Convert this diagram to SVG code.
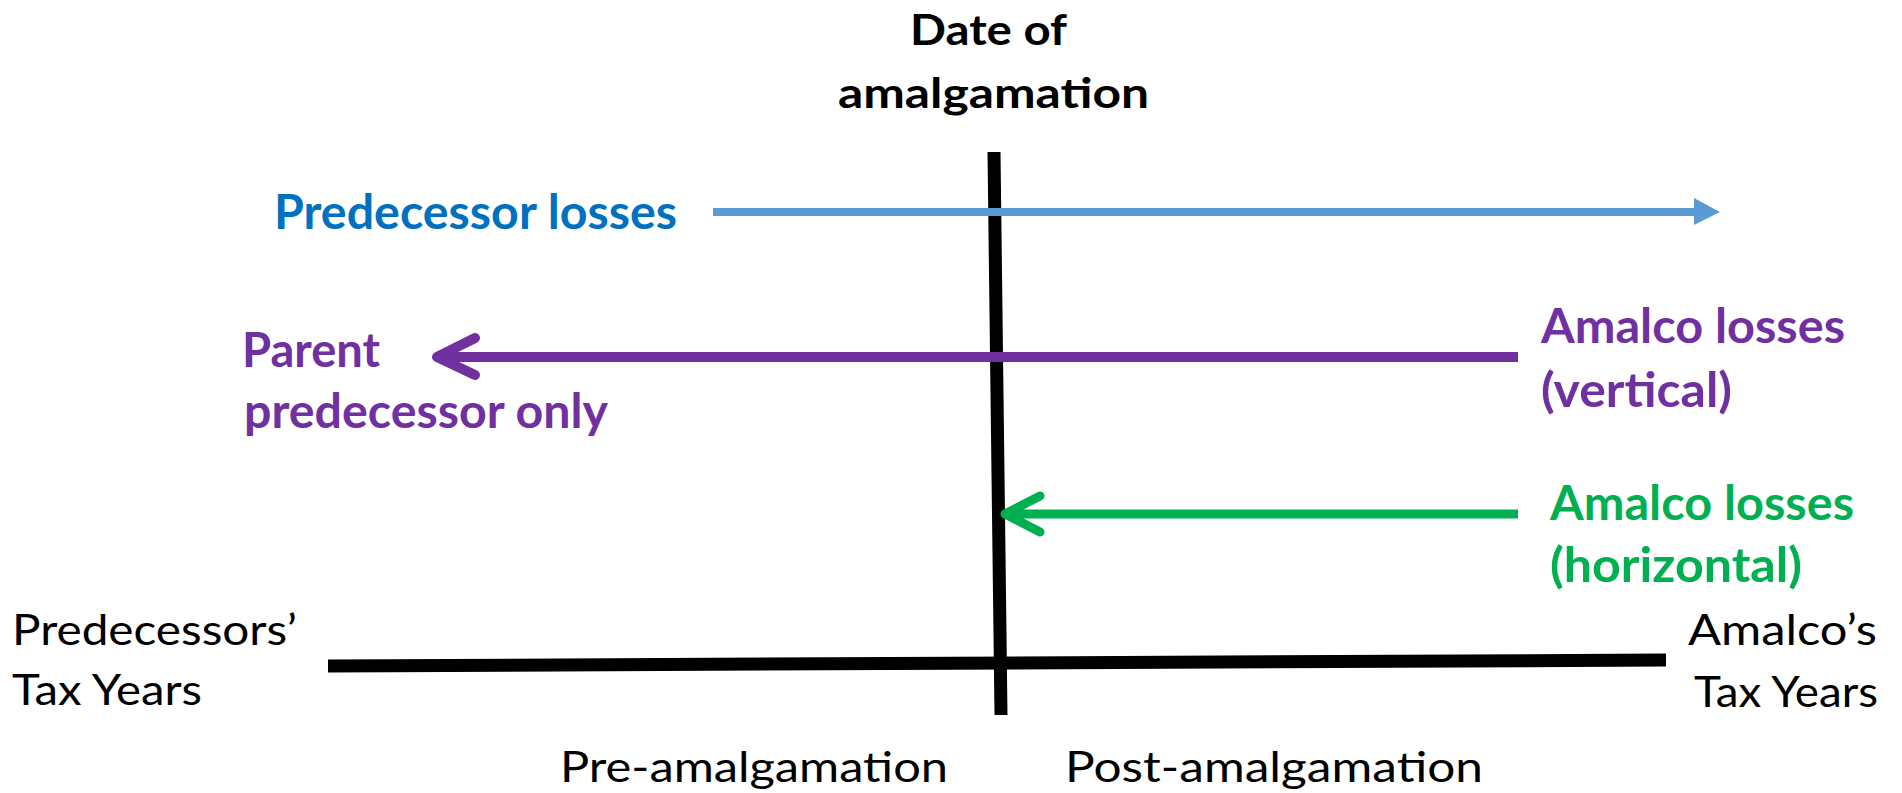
<svg xmlns="http://www.w3.org/2000/svg" width="1902" height="793" viewBox="0 0 1902 793">
  <style>
    text { font-family: Lato, "Open Sans", "Liberation Sans", sans-serif; }
    .title { font-weight: bold; font-size: 42px; fill: #000; }
    .lbl { font-weight: bold; font-size: 47px; }
    .axis { font-size: 42px; fill: #000; }
    .blue { fill: #0070C0; }
    .purple { fill: #7030A0; }
    .green { fill: #00B050; }
    .bar { stroke: #000; stroke-width: 13; fill: none; }
    .head { fill: none; stroke-linecap: round; stroke-linejoin: round; }
  </style>

  <rect width="1902" height="793" fill="#fff"/>

  <!-- timeline axes -->
  <g id="axes">
    <line class="bar" x1="328" y1="666" x2="1666" y2="660"/>
    <line class="bar" x1="994" y1="152" x2="1001" y2="715"/>
  </g>

  <!-- loss carry arrows -->
  <g id="connectors">
    <g id="arrow-predecessor">
      <line x1="713" y1="212" x2="1696" y2="212" stroke="#5B9BD5" stroke-width="8"/>
      <polygon points="1694,198 1720,212 1694,225" fill="#5B9BD5"/>
    </g>
    <g id="arrow-vertical">
      <line x1="1518" y1="357" x2="440" y2="357" stroke="#7030A0" stroke-width="10"/>
      <polyline class="head" points="475,338 437,357 475,375" stroke="#7030A0" stroke-width="10"/>
    </g>
    <g id="arrow-horizontal">
      <line x1="1518" y1="514" x2="1008" y2="514" stroke="#00B050" stroke-width="9"/>
      <polyline class="head" points="1040,496 1005,514 1040,532" stroke="#00B050" stroke-width="9"/>
    </g>
  </g>

  <g id="date-of-amalgamation">
    <text class="title" x="910" y="45" textLength="157" lengthAdjust="spacingAndGlyphs">Date of</text>
    <text class="title" x="838" y="108" textLength="311" lengthAdjust="spacingAndGlyphs">amalgamation</text>
  </g>

  <g id="predecessor-losses">
    <text class="lbl blue" x="274" y="229" textLength="403" lengthAdjust="spacingAndGlyphs">Predecessor losses</text>
  </g>

  <g id="parent-predecessor">
    <text class="lbl purple" x="242" y="367" textLength="138" lengthAdjust="spacingAndGlyphs">Parent</text>
    <text class="lbl purple" x="244" y="428" textLength="364" lengthAdjust="spacingAndGlyphs">predecessor only</text>
  </g>

  <g id="amalco-vertical">
    <text class="lbl purple" x="1541" y="343" textLength="304" lengthAdjust="spacingAndGlyphs">Amalco losses</text>
    <text class="lbl purple" x="1541" y="407" textLength="191" lengthAdjust="spacingAndGlyphs">(vertical)</text>
  </g>

  <g id="amalco-horizontal">
    <text class="lbl green" x="1550" y="520" textLength="304" lengthAdjust="spacingAndGlyphs">Amalco losses</text>
    <text class="lbl green" x="1550" y="582" textLength="252" lengthAdjust="spacingAndGlyphs">(horizontal)</text>
  </g>

  <g id="predecessors-tax-years">
    <text class="axis" x="12" y="645" textLength="285" lengthAdjust="spacingAndGlyphs">Predecessors’</text>
    <text class="axis" x="12" y="705" textLength="190" lengthAdjust="spacingAndGlyphs">Tax Years</text>
  </g>

  <g id="amalco-tax-years">
    <text class="axis" x="1688" y="645" textLength="189" lengthAdjust="spacingAndGlyphs">Amalco’s</text>
    <text class="axis" x="1694" y="707" textLength="184" lengthAdjust="spacingAndGlyphs">Tax Years</text>
  </g>

  <g id="pre-amalgamation">
    <text class="axis" x="560" y="782" textLength="388" lengthAdjust="spacingAndGlyphs">Pre-amalgamation</text>
  </g>

  <g id="post-amalgamation">
    <text class="axis" x="1065" y="782" textLength="418" lengthAdjust="spacingAndGlyphs">Post-amalgamation</text>
  </g>
</svg>
